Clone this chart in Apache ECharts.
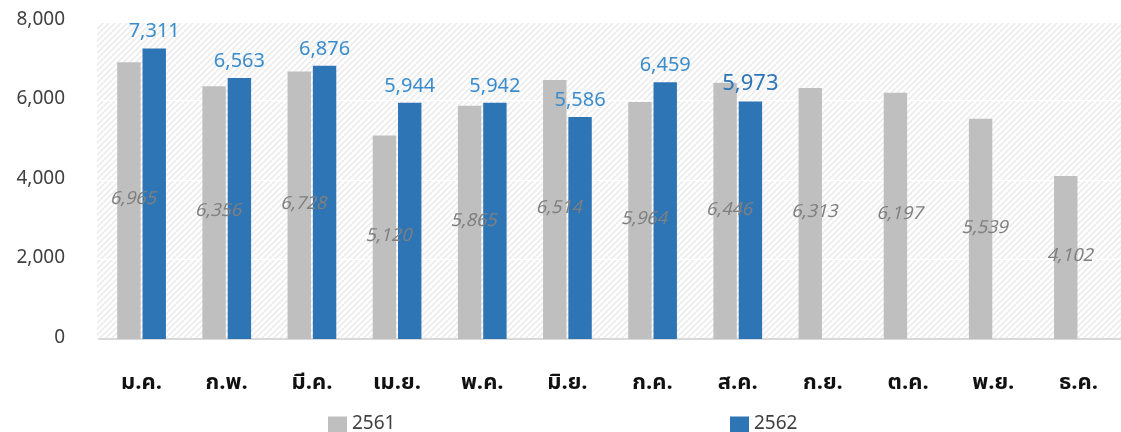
<!DOCTYPE html>
<html>
<head>
<meta charset="utf-8">
<script src="https://cdn.jsdelivr.net/npm/echarts@6/dist/echarts.min.js"></script>
<style>
  html, body { margin: 0; padding: 0; background: #fff; }
  #chart { width: 1121px; height: 432px; }
</style>
</head>
<body>
<div id="chart"></div>
<script>
// เดือน
const months = ['ม.ค.', 'ก.พ.', 'มี.ค.', 'เม.ย.', 'พ.ค.', 'มิ.ย.', 'ก.ค.', 'ส.ค.', 'ก.ย.', 'ต.ค.', 'พ.ย.', 'ธ.ค.'];
const data2561 = [6965, 6356, 6728, 5120, 5865, 6514, 5964, 6446, 6313, 6197, 5539, 4102];
const data2562 = [7311, 6563, 6876, 5944, 5942, 5586, 6459, 5973];
const yTicks = [0, 2000, 4000, 6000, 8000];

// hatch pattern for plot background
function makeHatch() {
  const c = document.createElement('canvas');
  c.width = 6; c.height = 6;
  const ctx = c.getContext('2d');
  ctx.fillStyle = '#ffffff';
  ctx.fillRect(0, 0, 6, 6);
  ctx.strokeStyle = '#ececec';
  ctx.lineWidth = 1.6;
  ctx.beginPath();
  ctx.moveTo(-1, 7); ctx.lineTo(7, -1);
  ctx.moveTo(-4, 4); ctx.lineTo(4, -4);
  ctx.moveTo(2, 10); ctx.lineTo(10, 2);
  ctx.stroke();
  return c;
}

const chart = echarts.init(document.getElementById('chart'));
const font = "Tahoma, 'Noto Sans Thai', 'Noto Sans', sans-serif";
const fmt = v => v.toLocaleString('en-US');

// last month of 2562 is labelled a bit larger in the original
const data2562Items = data2562.map((v, i) => i === data2562.length - 1
  ? { value: v, label: { fontSize: 22, color: '#2e75b6' } }
  : v);

const option = {
  backgroundColor: '#fff',
  textStyle: { fontFamily: font },
  graphic: [{
    type: 'rect',
    z: -10,
    silent: true,
    shape: { x: 97, y: 23, width: 1024, height: 316 },
    style: { fill: { image: makeHatch(), repeat: 'repeat' } }
  }],
  grid: { left: 99, right: -5, top: 21, bottom: 93 },
  legend: [
    {
      left: 323, top: 411,
      itemWidth: 19, itemHeight: 18, icon: 'rect',
      textStyle: { fontSize: 19, color: '#404040', fontFamily: font },
      data: ['2561']
    },
    {
      left: 725, top: 411,
      itemWidth: 19, itemHeight: 18, icon: 'rect',
      textStyle: { fontSize: 19, color: '#404040', fontFamily: font },
      data: ['2562']
    }
  ],
  xAxis: {
    type: 'category',
    data: months,
    axisLine: { lineStyle: { color: '#d9d9d9', width: 2 } },
    axisTick: { show: false },
    axisLabel: { margin: 35, fontSize: 22, fontWeight: 'bold', color: '#111' }
  },
  yAxis: {
    type: 'value',
    min: yTicks[0],
    max: yTicks[yTicks.length - 1],
    interval: 2000,
    axisLine: { show: false },
    axisTick: { show: false },
    splitLine: { lineStyle: { color: '#ffffff', width: 1 } },
    axisLabel: { margin: 34, fontSize: 19, color: '#404040', formatter: fmt }
  },
  series: [
    {
      name: '2561',
      type: 'bar',
      data: data2561,
      barWidth: '27.5%',
      barGap: '8%',
      itemStyle: { color: '#bfbfbf' },
      label: {
        show: true,
        position: 'inside',
        offset: [4, 0],
        fontSize: 18,
        fontStyle: 'italic',
        color: '#7f7f7f',
        formatter: p => fmt(p.value)
      }
    },
    {
      name: '2562',
      type: 'bar',
      data: data2562Items,
      barWidth: '27.5%',
      itemStyle: { color: '#2e75b6' },
      label: {
        show: true,
        position: 'top',
        distance: 5,
        fontSize: 20,
        color: '#3a8ccc',
        formatter: p => fmt(p.value)
      }
    }
  ]
};

chart.setOption(option);
window.addEventListener('resize', () => chart.resize());
</script>
</body>
</html>
